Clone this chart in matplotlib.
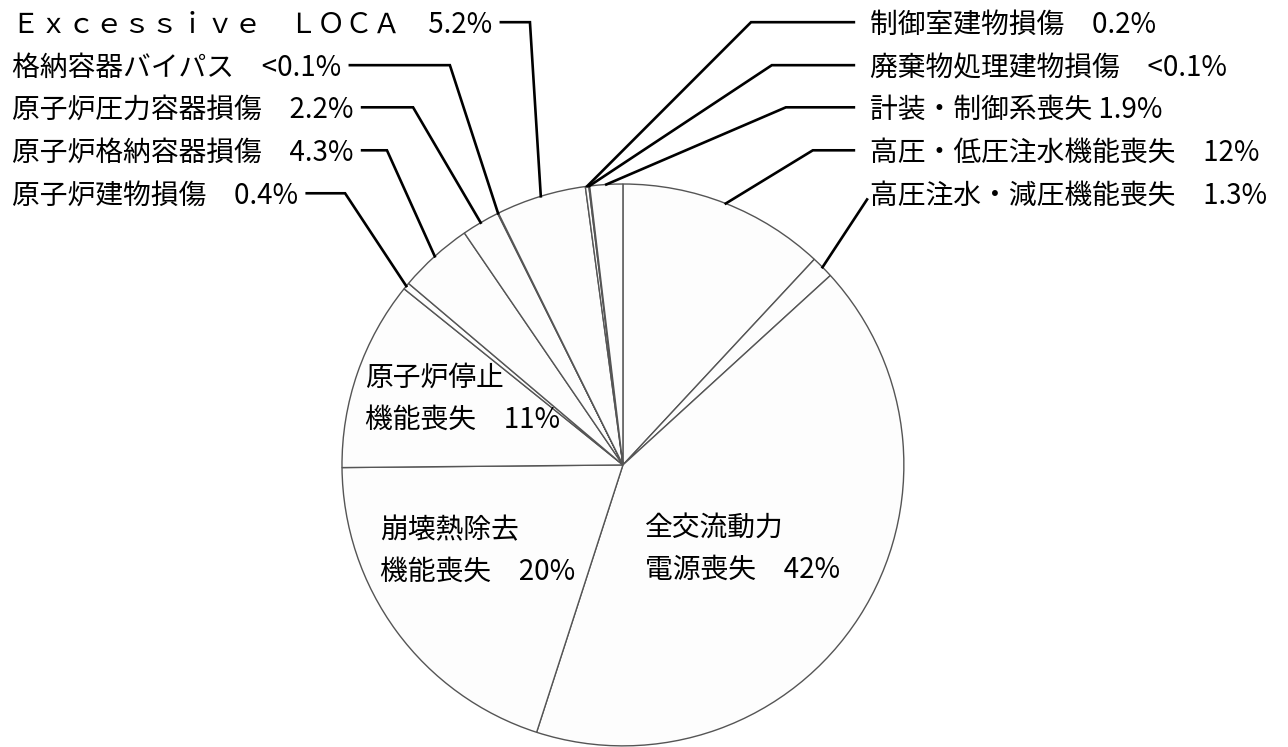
import numpy as np
import matplotlib
matplotlib.use('Agg')
import matplotlib.pyplot as plt

plt.rcParams['font.family'] = ['Noto Sans CJK JP', 'DejaVu Sans']

# slices, clockwise from 12 o'clock
labels = ['高圧・低圧注水機能喪失　12%',
          '高圧注水・減圧機能喪失　1.3%',
          '全交流動力\n電源喪失　42%',
          '崩壊熱除去\n機能喪失　20%',
          '原子炉停止\n機能喪失　11%',
          '原子炉建物損傷　0.4%',
          '原子炉格納容器損傷　4.3%',
          '原子炉圧力容器損傷　2.2%',
          '格納容器バイパス　<0.1%',
          'Ｅｘｃｅｓｓｉｖｅ　ＬＯＣＡ　5.2%',
          '制御室建物損傷　0.2%',
          '廃棄物処理建物損傷　<0.1%',
          '計装・制御系喪失 1.9%']
shares = [12, 1.3, 42, 20, 11, 0.4, 4.3, 2.2, 0.05, 5.2, 0.2, 0.05, 1.9]

# labels drawn inside the pie
inside = {2: (0.078, -0.300), 4: (-0.918, 0.235), 3: (-0.865, -0.306)}
# left column: slice index -> (row, elbow x)
left = {9: (0, -0.331), 8: (1, -0.616), 7: (2, -0.747), 6: (3, -0.840), 5: (4, -0.989)}
# right column: slice index -> (row, elbow x); None = straight leader
right = {10: (0, 0.456), 11: (1, 0.530), 12: (2, 0.580), 0: (3, 0.676), 1: (4, None)}
row_y = [1.566, 1.413, 1.263, 1.110, 0.957]
left_x, right_x = -2.174, 0.879

fig = plt.figure(figsize=(12.88, 7.47), dpi=100)
ax = fig.add_axes([0, 0, 1, 1])
wedges, _ = ax.pie(shares, startangle=90, counterclock=False, radius=1,
                   colors=['#fdfdfd'] * len(shares),
                   wedgeprops=dict(edgecolor='#555555', linewidth=1.0))
ax.set_xlim(-2.217, 2.367)
ax.set_ylim(-1.004, 1.655)
ax.axis('off')

fs = 20
lw = 1.9

for i, (x, y) in inside.items():
    ax.text(x, y, labels[i], fontsize=fs, ha='left', va='center', linespacing=1.5)

def edge_point(w):
    a = np.deg2rad((w.theta1 + w.theta2) / 2)
    return np.cos(a), np.sin(a)

fig.canvas.draw()
inv = ax.transData.inverted()

for i, (row, ex) in left.items():
    ty = row_y[row]
    t = ax.text(left_x, ty, labels[i], fontsize=fs, ha='left', va='center')
    bb = t.get_window_extent(fig.canvas.get_renderer())
    x_end = inv.transform((bb.x1, bb.y0))[0] + 0.03
    px, py = edge_point(wedges[i])
    ax.plot([x_end, ex, px], [ty + 0.01, ty + 0.01, py], color='black', lw=lw,
            solid_joinstyle='miter')

for i, (row, ex) in right.items():
    ty = row_y[row]
    ax.text(right_x, ty, labels[i], fontsize=fs, ha='left', va='center')
    px, py = edge_point(wedges[i])
    if ex is None:
        ax.plot([right_x - 0.01, px], [ty - 0.012, py], color='black', lw=lw)
    else:
        ax.plot([right_x - 0.057, ex, px], [ty + 0.01, ty + 0.01, py], color='black',
                lw=lw, solid_joinstyle='miter')

fig.savefig('out.png', dpi=100, facecolor='white')
